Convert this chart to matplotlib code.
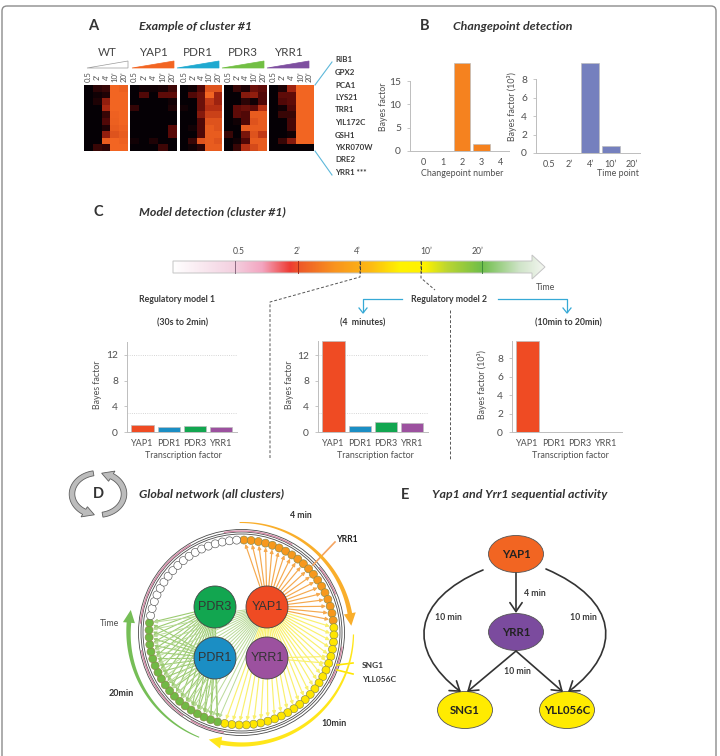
#!/usr/bin/env python3
"""Yeast stress response figure, panels A to E. Positions are in picture pixels."""
import numpy as np
import matplotlib
matplotlib.use("Agg")
import matplotlib.pyplot as plt
from matplotlib.colors import LinearSegmentedColormap
from matplotlib.patches import (Circle, Ellipse, FancyArrowPatch, FancyBboxPatch,
                                Polygon, Arc)
from matplotlib.path import Path

W, H = 720, 756
plt.rcParams["font.family"] = ["Lato", "DejaVu Sans"]

# -- panel A data --
heat_names = ["WT", "YAP1", "PDR1", "PDR3", "YRR1"]
time_labels = ["0.5", "2’", "4’", "10’", "20’"]
genes = ["RIB1", "GPX2", "PCA1", "LYS21", "TRR1", "YIL172C", "GSH1", "YKR070W", "DRE2", "YRR1 ***"]
heat_wt = [[0, .15, .2, 1, .97], [0, .05, .1, 1, 1], [0, .1, .55, 1, 1], [0, 0, .65, 1, 1],
           [0, 0, .2, .98, 1], [0, 0, .3, .97, 1], [0, 0, .1, .95, .98], [0, 0, .55, .9, .95],
           [0, 0, .95, 1, .98], [0, .2, .15, 1, 1]]
heat_yap1 = [[0, .05, .05, .08, .22], [0, .3, 0, .35, .35], [0, 0, 0, 0, .05], [.18, 0, 0, 0, .1],
             [0, 0, 0, 0, 0], [0, 0, 0, 0, 0], [0, 0, 0, 0, .33], [0, 0, 0, 0, .33],
             [.05, 0, .1, 0, 0], [0, 0, 0, .22, 0]]
heat_pdr1 = [[0, .05, .3, .9, .9], [0, .3, .4, 1, .6], [0, 0, .4, .75, .6], [.05, 0, .4, .7, .7],
             [0, 0, .5, .8, .8], [0, 0, .3, .9, .9], [0, .05, .3, .95, .9], [0, 0, .3, .95, .95],
             [0, .2, .9, .95, .9], [0, .05, .15, .95, .95]]
heat_pdr3 = [[0, .2, .1, .4, .35], [0, 0, .5, .55, .3], [0, 0, .15, .05, .3], [0, .35, .4, .35, .7],
             [0, .35, .3, .95, .95], [0, .05, .3, .9, .95], [0, 0, .95, .95, .95], [.2, 0, .45, .9, .75],
             [0, .05, .3, .95, .95], [0, .2, .7, .85, .95]]
heat_yrr1 = [[0, .1, .6, 1, 1], [0, .35, .35, 1, 1], [0, .3, .35, 1, 1], [0, .05, .3, 1, 1],
             [0, .2, .2, 1, 1], [0, 0, .25, 1, 1], [0, 0, .25, 1, 1], [0, 0, .05, 1, 1],
             [0, .2, .5, 1, 1], [0, 0, 0, 0, 0]]
heat_values = [heat_wt, heat_yap1, heat_pdr1, heat_pdr3, heat_yrr1]

# -- panel B data --
changepoints = ["0", "1", "2", "3", "4"]
changepoint_bf = [0.05, 0.05, 18.9, 1.6, 0.05]
timepoint_bf = [0.03, 0.03, 9.7, 0.75, 0.03]

# -- panel C data --
tfs = ["YAP1", "PDR1", "PDR3", "YRR1"]
model1_bf = [1.1, 0.85, 0.9, 0.85]
model2a_bf = [14.2, 1.0, 1.6, 1.45]
model2b_bf = [9.9, 0.04, 0.04, 0.04]

# -- panel D data --
n_orange, n_yellow, n_green, n_white = 19, 24, 19, 18

# -- panel E labels --
e_edge_labels = ["4 min", "10 min", "10 min", "10 min"]

INK = "#333333"
GREY = "#505050"
AXC = "#bdbdbd"
TF_COLORS = ["#EF4B23", "#1B8EC4", "#12A650", "#9C519F"]
ORANGE, YELLOW, GREEN, PURPLE, BLUE = "#F7941D", "#FFE600", "#6DB33F", "#7E4FA0", "#1FA9D0"

fig = plt.figure(figsize=(W / 100, H / 100), dpi=100, facecolor="white")
top = fig.add_axes([0, 0, 1, 1], zorder=5)
top.set_xlim(0, W)
top.set_ylim(H, 0)
top.axis("off")
top.patch.set_alpha(0)


def px_axes(x0, y0, x1, y1):
    return fig.add_axes([x0 / W, 1 - y1 / H, (x1 - x0) / W, (y1 - y0) / H])


def label(x, y, s, size=6.4, color=GREY, ha="center", weight="normal", style="normal", rot=0):
    top.text(x, y, s, fontsize=size, color=color, ha=ha, va="center", fontweight=weight,
             fontstyle=style, rotation=rot)


def title(x, y, s):
    label(x, y, s, size=8.9, color=INK, ha="left", weight="bold", style="italic")


def head(x, y, s):
    label(x, y, s, size=10.5, color=INK, weight="bold")


def bar_panel(x0, x1, y_top, y_zero, ymax, c0, step, values, colors, names, ticks, bound):
    ax = px_axes(x0, y_top, x1, y_zero)
    ax.bar(range(len(values)), values, width=0.85, color=colors, edgecolor=AXC, linewidth=0.5)
    ax.set_xlim((x0 - c0) / step, (x1 - c0) / step)
    ax.set_ylim(0, ymax)
    ax.set_yticks(ticks)
    ax.set_xticks(range(len(values)), names)
    ax.tick_params(axis="y", length=2.5, width=0.6, color=AXC, labelsize=7.4, labelcolor=GREY, pad=4)
    ax.tick_params(axis="x", length=0, labelsize=6.5, labelcolor=GREY, pad=5)
    for s in ("top", "right"):
        ax.spines[s].set_visible(False)
    for s in ("left", "bottom"):
        ax.spines[s].set_color(AXC)
        ax.spines[s].set_linewidth(0.7)
    ax.spines["left"].set_bounds(0, bound)
    ax.patch.set_alpha(0)
    return ax


def arc_arrow(cx, cy, rx, ry, a0, a1, w0, w1, head_w, head_deg, fc, ec="none", lw=0):
    """Tapered arc with a triangular head, angles in degrees, y axis pointing down."""
    sgn = np.sign(a1 - a0)
    t = np.radians(np.linspace(a0, a1 - sgn * head_deg, 60))
    w = np.linspace(w0, w1, 60) / 2
    base = np.radians(a1 - sgn * head_deg)
    tip = np.radians(a1)
    pts = [(cx + (rx + d) * np.cos(a), cy - (ry + d) * np.sin(a)) for a, d in zip(t, w)]
    pts.append((cx + (rx + head_w / 2) * np.cos(base), cy - (ry + head_w / 2) * np.sin(base)))
    pts.append((cx + rx * np.cos(tip), cy - ry * np.sin(tip)))
    pts.append((cx + (rx - head_w / 2) * np.cos(base), cy - (ry - head_w / 2) * np.sin(base)))
    pts += [(cx + (rx - d) * np.cos(a), cy - (ry - d) * np.sin(a)) for a, d in zip(t[::-1], w[::-1])]
    top.add_patch(Polygon(pts, closed=True, fc=fc, ec=ec, lw=lw, zorder=4))


# frame round the whole figure
top.add_patch(FancyBboxPatch((2, 6), 714, 800, boxstyle="round,pad=0,rounding_size=5",
                             fc="none", ec="#8c8c8c", lw=1.0, zorder=0))

# -- A --
head(93, 26, "A")
title(139, 26, "Example of cluster #1")
heat_cmap = LinearSegmentedColormap.from_list("heat", ["#050005", "#5a0a08", "#b02a12", "#F26522"])
heat_x = [(84, 128), (130, 177), (180, 222), (224, 267), (269, 314)]
tri_x = [(87, 128), (132, 174), (177, 219), (222, 264), (267, 309)]
tri_c = ["white", "#F26522", BLUE, "#72BF44", PURPLE]
for name, vals, (x0, x1), (t0, t1), tc in zip(heat_names, heat_values, heat_x, tri_x, tri_c):
    ax = px_axes(x0, 85, x1, 151)
    ax.imshow(vals, cmap=heat_cmap, vmin=0, vmax=1, aspect="auto", interpolation="nearest")
    ax.axis("off")
    label((t0 + t1) / 2, 53, name, size=8.4, color="#444444")
    top.add_patch(Polygon([(t0, 68), (t1, 61), (t1, 68)], closed=True, fc=tc,
                          ec="#9a9a9a" if tc == "white" else tc, lw=0.5))
    for i, tl in enumerate(time_labels):
        label(x0 + (x1 - x0) * (i + 0.5) / 5, 77, tl, size=5.6, rot=90)
for i, g in enumerate(genes):
    label(335, 60 + 12.5 * i, g, size=5.7, color="#3a3a3a", ha="left", weight="bold")
top.plot([315, 332], [85, 62], color="#5DB8DA", lw=0.8)
top.plot([315, 332], [151, 175], color="#5DB8DA", lw=0.8)

# -- B --
head(425, 26, "B")
title(453, 26, "Changepoint detection")
bar_panel(410, 509, 63, 151, 18.9, 423, 19.5, changepoint_bf, "#F5821F", changepoints, [0, 5, 10, 15], 15)
bar_panel(536, 640, 63, 153, 9.75, 549, 20.6, timepoint_bf, "#7580BE", time_labels, [0, 2, 4, 6, 8], 8)
label(383, 107, "Bayes factor", rot=90)
label(512, 107, "Bayes factor (10³)", rot=90)
label(462, 174, "Changepoint number")
label(618, 174, "Time point")

# -- C --
head(98, 212, "C")
title(139, 212, "Model detection (cluster #1)")
stops = [(173, "#ffffff"), (235, "#f3cfdf"), (262, "#f3a5c0"), (290, "#ee3b33"), (300, "#ee5a28"),
         (335, "#f9941e"), (370, "#fdb913"), (400, "#fff200"), (425, "#fff200"), (447, "#bcd631"),
         (482, "#6fbe4a"), (520, "#cfe4c8"), (545, "#f4f6f1")]
tl_cmap = LinearSegmentedColormap.from_list(
    "timeline", [((x - 173) / (545 - 173), c) for x, c in stops], N=512)
img = top.imshow(np.linspace(0, 1, 512)[None, :], cmap=tl_cmap, extent=(173, 545, 280, 254),
                 aspect="auto", zorder=1)
outline = Polygon([(173, 261), (532, 261), (532, 255), (545, 267), (532, 279), (532, 273), (173, 273)],
                  closed=True, fc="none", ec="#c4c4c4", lw=0.7, zorder=2)
top.add_patch(outline)
img.set_clip_path(outline)
top.set_xlim(0, W)
top.set_ylim(H, 0)
for x, c, ls in [(235, "#8a6a80", "-"), (298, "#a52a1c", "-"), (360, "#333333", "--"),
                 (421, "#333333", "--"), (482, "#3e8a3a", "-")]:
    top.plot([x, x], [261, 273], color=c, lw=0.7, ls=ls, zorder=3)
for x, s in zip([239, 297, 357, 426, 478], time_labels):
    label(x, 252, s, size=6.2)
label(545, 288, "Time", size=6.4)
label(177, 300, "Regulatory model 1", size=6.3, color="#3a3a3a", weight="bold")
label(449, 300, "Regulatory model 2", size=6.3, color="#3a3a3a", weight="bold")
label(183, 323, "(30s to 2min)", size=6.3, color="#3a3a3a", weight="bold")
label(363, 323, "(4  minutes)", size=6.3, color="#3a3a3a", weight="bold")
label(568, 323, "(10min to 20min)", size=6.3, color="#3a3a3a", weight="bold")
for pts in ([(360, 261), (360, 277), (270, 302), (270, 460)], [(421, 261), (421, 278), (435, 290)],
            [(450, 310), (450, 460)]):
    xs, ys = zip(*pts)
    top.plot(xs, ys, color="#555555", lw=0.7, ls=(0, (3, 2)), zorder=3)
for x0, x1 in [(402, 363), (498, 567)]:
    top.plot([x0, x1, x1], [299, 299, 312], color="#36A9D6", lw=0.9)
    top.plot([x1 - 4, x1, x1 + 4], [308, 313, 308], color="#36A9D6", lw=0.9)

ticks_c = [0, 4, 8, 12]
a1 = bar_panel(127, 237, 342, 432, 14, 142.5, 26.2, model1_bf, TF_COLORS, tfs, ticks_c, 14)
a2 = bar_panel(318, 428, 341, 432, 14.2, 333.5, 26.2, model2a_bf, TF_COLORS, tfs, ticks_c, 14.2)
a3 = bar_panel(512, 622, 341, 432, 9.9, 527.5, 26.3, model2b_bf, TF_COLORS, tfs, [0, 2, 4, 6, 8], 9.9)
for ax in (a1, a2):
    for v in (12, 3):
        ax.axhline(v, color="#c8c8c8", lw=0.6, ls=":", zorder=0)
for x in (98, 290):
    label(x, 385, "Bayes factor", rot=90)
label(482, 385, "Bayes factor (10³)", rot=90)
for x in (183, 375, 570):
    label(x, 456, "Transcription factor")

# -- D --
title(139, 494, "Global network (all clusters)")
head(98, 494, "D")
arc_arrow(98, 494, 26, 21, 100, 262, 5, 6, 12, 24, "#bcbcbc", ec="#5f5f5f", lw=0.6)
arc_arrow(98, 494, 26, 21, 280, 442, 5, 6, 12, 24, "#bcbcbc", ec="#5f5f5f", lw=0.6)

CX, CY = 241.5, 632.5
R_NODE = 92.5
tf_pos = {"YAP1": (267, 607), "PDR1": (215, 658), "PDR3": (215, 607), "YRR1": (267, 658)}
n_nodes = n_orange + n_yellow + n_green + n_white
angles = np.radians(88.5 - np.arange(n_nodes) * 360 / n_nodes)
node_x = CX + R_NODE * np.cos(angles)
node_y = CY - R_NODE * np.sin(angles)
group_colors = ["#F7981D"] * n_orange + [YELLOW] * n_yellow + ["#71B944"] * n_green + ["white"] * n_white


def edges(start, stop, target, color, lw=0.85):
    tx, ty = tf_pos[target]
    for i in range(start, stop):
        top.add_patch(FancyArrowPatch((tx, ty), (node_x[i], node_y[i]), arrowstyle="-|>",
                                      mutation_scale=5, shrinkA=0, shrinkB=3, lw=lw, color=color,
                                      zorder=1.2))


e_yellow = n_orange + n_yellow
e_green = e_yellow + n_green
edges(0, n_orange, "YAP1", "#F5A94F")
edges(n_orange, e_yellow, "YAP1", "#F9F06E")
edges(e_yellow, e_green, "PDR3", "#9CCB72", lw=0.8)
edges(e_yellow, e_green, "PDR1", "#9CCB72", lw=0.8)
edges(e_yellow, e_green, "YAP1", "#B9DA98", lw=0.7)
edges(n_orange + 4, n_orange + 6, "YRR1", "#F9F06E")

for r in (103, 100.5, 98.5):
    top.add_patch(Circle((CX, CY), r, fc="none", ec="#4a4a4a", lw=0.6, zorder=1.5))
for a0, a1_ in [(-40, -22), (-100, -60), (-175, -120), (125, 170), (100, 120), (8, 30)]:
    top.add_patch(Arc((CX, CY), 203, 203, theta1=a0, theta2=a1_, color="#D58CA8", lw=1.0, zorder=1.6))
for x, y, c in zip(node_x, node_y, group_colors):
    top.add_patch(Circle((x, y), 4.0, fc=c, ec="#8a8a4a" if c != "white" else "#555555", lw=0.45, zorder=2))
for name, c in zip(tfs, TF_COLORS):
    x, y = tf_pos[name]
    top.add_patch(Circle((x, y), 21, fc=c, ec="#444444", lw=0.6, zorder=3))
    top.text(x, y, name, fontsize=9, family="Liberation Sans", color="#333333", ha="center",
             va="center", zorder=3.5)

arc_arrow(CX, CY, 110, 110, 91, 3.5, 1.0, 4.6, 12, 6.5, "#F9AE2B")
arc_arrow(CX, CY, 112, 112, -1, -107, 1.2, 4.6, 12, 6.5, "#FFE61A")
arc_arrow(CX, CY, 113, 113, -112, -191.5, 1.0, 4.6, 12, 6.5, "#76BE57")
top.plot([313, 335], [565, 542], color="#F4A460", lw=1.2, zorder=3)
top.plot([337, 353], [665, 663], color=YELLOW, lw=1.2, zorder=3)
top.plot([337, 353], [670, 674], color=YELLOW, lw=1.2, zorder=3)
label(301, 516, "4 min", size=6.3, color="#333333", weight="bold")
label(347, 539, "YRR1", size=6.2, color="#222222", weight="bold")
label(110, 623, "Time", size=6.4)
label(121, 693, "20min", size=6.5, color="#333333", weight="bold")
label(334, 724, "10min", size=6.5, color="#333333", weight="bold")
label(362, 666, "SNG1", size=6.0, color="#3a3a3a", ha="left", weight="bold")
label(362, 679, "YLL056C", size=6.0, color="#3a3a3a", ha="left", weight="bold")

# -- E --
head(405, 495, "E")
title(432, 495, "Yap1 and Yrr1 sequential activity")
e_nodes = [("YAP1", 516, 554, "#F26522"), ("YRR1", 516, 632, "#7B4B9E"),
           ("SNG1", 465, 710, "#FFEB00"), ("YLL056C", 567, 710, "#FFEB00")]
for name, x, y, c in e_nodes:
    top.add_patch(Ellipse((x, y), 55, 37, fc=c, ec="#555555", lw=0.6, zorder=2))
    top.text(x, y, name, fontsize=8.2, fontweight="bold", color="#222222", ha="center",
             va="center", zorder=3)
arrow_kw = dict(arrowstyle="->,head_length=3.2,head_width=2.2", mutation_scale=2, lw=1.2,
                color="#333333", zorder=3, shrinkA=0, shrinkB=0)
curve = [Path.MOVETO, Path.CURVE4, Path.CURVE4, Path.CURVE4]
top.add_patch(FancyArrowPatch(path=Path([(483, 570), (412, 600), (406, 650), (461, 692)], curve), **arrow_kw))
top.add_patch(FancyArrowPatch(path=Path([(546, 569), (618, 600), (624, 650), (568, 692)], curve), **arrow_kw))
for p0, p1 in [((516, 573), (516, 613)), ((516, 651), (467, 692)), ((516, 651), (563, 692))]:
    top.add_patch(FancyArrowPatch(p0, p1, **arrow_kw))
for (x, y), s in zip([(535, 593), (448, 618), (583, 618), (517, 672)], e_edge_labels):
    label(x, y, s, size=6.3, color="#3a3a3a", weight="bold")

fig.savefig("out.png", dpi=100)
